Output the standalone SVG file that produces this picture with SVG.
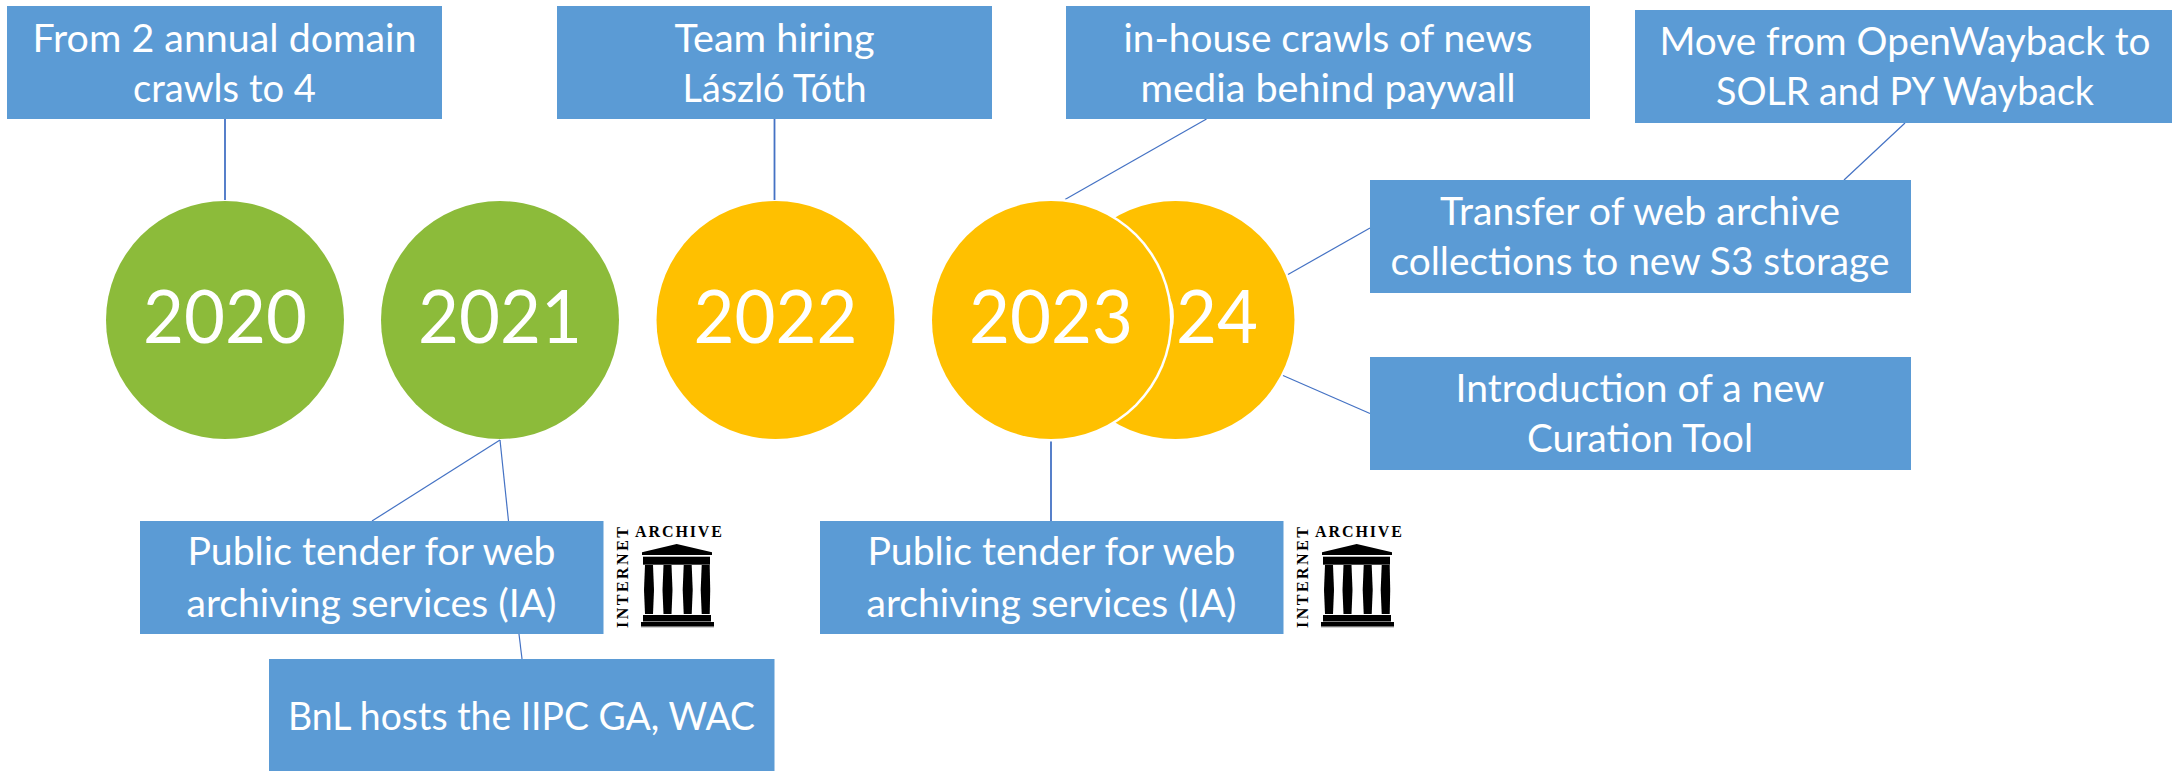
<svg xmlns="http://www.w3.org/2000/svg" width="2172" height="771" viewBox="0 0 2172 771">
<style>
.box{fill:#5B9BD5}
.t{font-family:"Lato","Carlito","Liberation Sans",sans-serif;font-size:38px;fill:#fff;text-anchor:middle}
.y{font-family:"Lato","Carlito","Liberation Sans",sans-serif;font-size:74px;fill:#fff;text-anchor:middle}
.green{fill:#8CBB3A}
.amber{fill:#FFC000}
.c{stroke:#4472C4;stroke-width:1.2;fill:none}
.v{stroke-width:1.8}
.ia{font-family:"Liberation Serif",serif;font-weight:bold;font-size:16px;fill:#000}
</style>
<defs>
<g id="temple" fill="#000">
<polygon points="642,552.3 676.7,544 712,552.3 712,555 642,555"/>
<rect x="643" y="556.7" width="67" height="8"/>
<path d="M645,565h8l1,25l-1,24h-8l-1,-24z"/>
<path d="M663.5,565h8l1,25l-1,24h-8l-1,-24z"/>
<path d="M683.7,565h8l1,25l-1,24h-8l-1,-24z"/>
<path d="M701.7,565h8l0.5,25l-0.5,24h-8l-1,-24z"/>
<rect x="643" y="615" width="68" height="6.5"/>
<rect x="641" y="622" width="73" height="4.5"/>
<rect x="641" y="626.5" width="73" height="0.8" fill="#666"/>
</g>
</defs>
<g id="connectors">
<line class="c v" x1="225" y1="119" x2="225" y2="200"/>
<line class="c v" x1="774.5" y1="119" x2="774.5" y2="200"/>
<line class="c" x1="1206.5" y1="119" x2="1065" y2="199.5"/>
<line class="c" x1="1905" y1="123" x2="1844" y2="180"/>
<line class="c" x1="1370" y1="228" x2="1288" y2="274.5"/>
<line class="c" x1="1283" y1="375.5" x2="1370" y2="413.5"/>
<line class="c v" x1="1051" y1="440" x2="1051" y2="521"/>
<line class="c" x1="500" y1="440" x2="372" y2="521"/>
<line class="c" x1="500" y1="440" x2="508.5" y2="521"/>
<line class="c" x1="519" y1="634" x2="522" y2="659"/>
</g>
<g id="y2020"><circle class="green" cx="225" cy="320" r="119"/><text class="y" x="225" y="343" textLength="164" lengthAdjust="spacingAndGlyphs">2020</text></g>
<g id="y2021"><circle class="green" cx="500" cy="320" r="119"/><text class="y" x="500" y="343" textLength="164" lengthAdjust="spacingAndGlyphs">2021</text></g>
<g id="y2022"><circle class="amber" cx="775.5" cy="320" r="119"/><text class="y" x="775.5" y="343" textLength="164" lengthAdjust="spacingAndGlyphs">2022</text></g>
<g id="y2024"><circle class="amber" cx="1175.5" cy="320" r="119"/><text class="y" x="1176" y="343" textLength="164" lengthAdjust="spacingAndGlyphs">2024</text></g>
<g id="y2023"><circle cx="1051" cy="320" r="121.5" fill="#fff"/><circle class="amber" cx="1051" cy="320" r="119"/><text class="y" x="1051" y="343" textLength="164" lengthAdjust="spacingAndGlyphs">2023</text></g>
<g id="n-domain"><rect class="box" x="7" y="6" width="435" height="113"/>
<text class="t" x="224.5" y="52" textLength="384" lengthAdjust="spacingAndGlyphs">From 2 annual domain</text>
<text class="t" x="224.5" y="102" textLength="183" lengthAdjust="spacingAndGlyphs">crawls to 4</text></g>
<g id="n-team"><rect class="box" x="557" y="6" width="435" height="113"/>
<text class="t" x="774.5" y="52" textLength="200" lengthAdjust="spacingAndGlyphs">Team hiring</text>
<text class="t" x="774.5" y="102" textLength="184" lengthAdjust="spacingAndGlyphs">László Tóth</text></g>
<g id="n-inhouse"><rect class="box" x="1066" y="6" width="524" height="113"/>
<text class="t" x="1328" y="52" textLength="409" lengthAdjust="spacingAndGlyphs">in-house crawls of news</text>
<text class="t" x="1328" y="102" textLength="375" lengthAdjust="spacingAndGlyphs">media behind paywall</text></g>
<g id="n-move"><rect class="box" x="1635" y="10" width="537" height="113"/>
<text class="t" x="1905" y="55" textLength="491" lengthAdjust="spacingAndGlyphs">Move from OpenWayback to</text>
<text class="t" x="1905" y="105" textLength="378" lengthAdjust="spacingAndGlyphs">SOLR and PY Wayback</text></g>
<g id="n-transfer"><rect class="box" x="1370" y="180" width="541" height="113"/>
<text class="t" x="1640" y="225" textLength="400" lengthAdjust="spacingAndGlyphs">Transfer of web archive</text>
<text class="t" x="1640" y="275" textLength="499" lengthAdjust="spacingAndGlyphs">collections to new S3 storage</text></g>
<g id="n-curation"><rect class="box" x="1370" y="357" width="541" height="113"/>
<text class="t" x="1640" y="402" textLength="369" lengthAdjust="spacingAndGlyphs">Introduction of a new</text>
<text class="t" x="1640" y="452" textLength="226" lengthAdjust="spacingAndGlyphs">Curation Tool</text></g>
<g id="n-tender2021"><rect class="box" x="140" y="521" width="463.5" height="113"/>
<text class="t" x="371.5" y="565" textLength="368" lengthAdjust="spacingAndGlyphs">Public tender for web</text>
<text class="t" x="371.5" y="617" textLength="370" lengthAdjust="spacingAndGlyphs">archiving services (IA)</text></g>
<g id="n-tender2023"><rect class="box" x="820" y="521" width="463.5" height="113"/>
<text class="t" x="1051.5" y="565" textLength="368" lengthAdjust="spacingAndGlyphs">Public tender for web</text>
<text class="t" x="1051.5" y="617" textLength="370" lengthAdjust="spacingAndGlyphs">archiving services (IA)</text></g>
<g id="n-bnl"><rect class="box" x="269" y="659" width="505.5" height="113"/>
<text class="t" x="521.5" y="730" textLength="467" lengthAdjust="spacingAndGlyphs">BnL hosts the IIPC GA, WAC</text></g>
<g id="logo-1">
<use href="#temple"/>
<text class="ia" x="635" y="537" textLength="87" lengthAdjust="spacing">ARCHIVE</text>
<text class="ia" transform="translate(628 628) rotate(-90)" textLength="101" lengthAdjust="spacing">INTERNET</text>
</g>
<g id="logo-2" transform="translate(680 0)">
<use href="#temple"/>
<text class="ia" x="635" y="537" textLength="87" lengthAdjust="spacing">ARCHIVE</text>
<text class="ia" transform="translate(628 628) rotate(-90)" textLength="101" lengthAdjust="spacing">INTERNET</text>
</g>
</svg>
